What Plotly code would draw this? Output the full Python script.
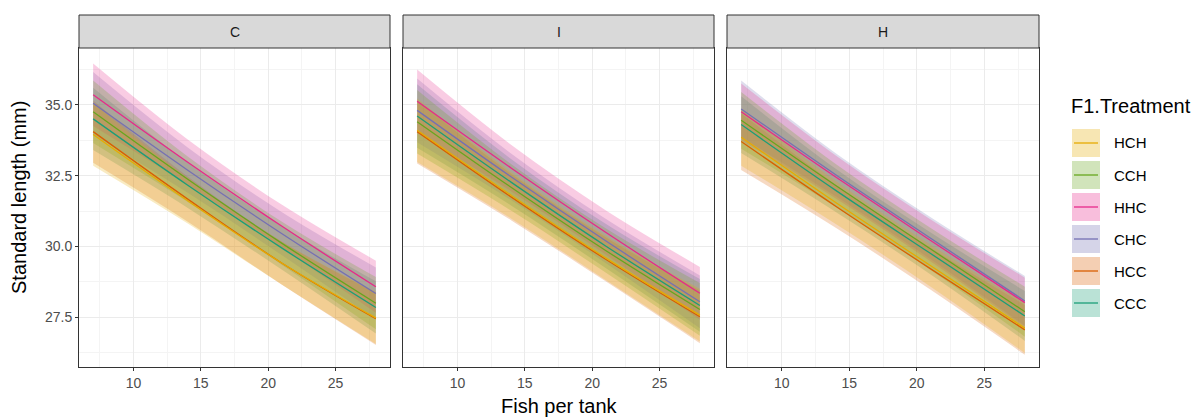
import plotly.graph_objects as go

W, H = 1195, 418

# ---------------- data ----------------
x_vals = [7, 14, 21, 28]
panels = ["C", "I", "H"]
series = ["HCH", "CCH", "HHC", "CHC", "HCC", "CCC"]
colors = ["#E6AB02", "#66A61E", "#E7298A", "#7570B3", "#D95F02", "#1B9E77"]

# fitted standard length per panel / series at x_vals
fit_C_HCH = [33.95, 31.62, 29.42, 27.48]
fit_C_CCH = [34.75, 32.38, 30.12, 28.00]
fit_C_HHC = [35.35, 32.98, 30.72, 28.58]
fit_C_CHC = [35.05, 32.70, 30.46, 28.34]
fit_C_HCC = [34.05, 31.68, 29.42, 27.45]
fit_C_CCC = [34.50, 32.17, 29.95, 27.85]

fit_I_HCH = [34.10, 31.80, 29.60, 27.58]
fit_I_CCH = [34.40, 32.08, 29.86, 27.78]
fit_I_HHC = [35.12, 32.76, 30.50, 28.35]
fit_I_CHC = [34.80, 32.45, 30.20, 28.05]
fit_I_HCC = [34.05, 31.74, 29.55, 27.52]
fit_I_CCC = [34.60, 32.26, 30.02, 27.92]

fit_H_HCH = [33.85, 31.55, 29.33, 27.12]
fit_H_CCH = [34.45, 32.15, 29.92, 27.70]
fit_H_HHC = [34.75, 32.45, 30.22, 28.02]
fit_H_CHC = [34.85, 32.53, 30.30, 28.08]
fit_H_HCC = [33.70, 31.42, 29.22, 27.06]
fit_H_CCC = [34.30, 31.98, 29.76, 27.55]

# half-width of the confidence ribbon at x_vals
half_C = [1.10, 0.80, 0.76, 0.92]
half_I = [1.12, 0.82, 0.78, 0.93]
half_H = [1.00, 0.76, 0.74, 0.88]

fits = {
    "C": [fit_C_HCH, fit_C_CCH, fit_C_HHC, fit_C_CHC, fit_C_HCC, fit_C_CCC],
    "I": [fit_I_HCH, fit_I_CCH, fit_I_HHC, fit_I_CHC, fit_I_HCC, fit_I_CCC],
    "H": [fit_H_HCH, fit_H_CCH, fit_H_HHC, fit_H_CHC, fit_H_HCC, fit_H_CCC],
}
halfs = {"C": half_C, "I": half_I, "H": half_H}

x_ticks = [10, 15, 20, 25]
y_ticks = [27.5, 30.0, 32.5, 35.0]
y_ticklabels = ["27.5", "30.0", "32.5", "35.0"]

# ---------------- helpers ----------------
def px(x):
    return x / W

def py(y):
    return 1 - y / H

def rgba(hexc, a):
    h = hexc.lstrip("#")
    r, g, b = int(h[0:2], 16), int(h[2:4], 16), int(h[4:6], 16)
    return f"rgba({r},{g},{b},{a})"

FONT = "Liberation Sans, Arial, Helvetica, sans-serif"
panel_px = [(79, 390), (403, 714), (727, 1039)]
top_px, bot_px = 48, 367
strip_top = 15

fig = go.Figure()

draw_order = list(range(len(series)))[::-1]  # CCC first, HCH on top

for pi, p in enumerate(panels):
    xa = "x" if pi == 0 else f"x{pi+1}"
    ya = "y" if pi == 0 else f"y{pi+1}"
    # ribbons
    for si in draw_order:
        f = fits[p][si]
        hw = halfs[p]
        lo = [v - h for v, h in zip(f, hw)]
        hi = [v + h for v, h in zip(f, hw)]
        fig.add_trace(go.Scatter(x=x_vals, y=lo, mode="lines", line=dict(width=0, shape="spline"),
                                 xaxis=xa, yaxis=ya, showlegend=False, hoverinfo="skip"))
        fig.add_trace(go.Scatter(x=x_vals, y=hi, mode="lines", line=dict(width=0, shape="spline"),
                                 fill="tonexty", fillcolor=rgba(colors[si], 0.24),
                                 xaxis=xa, yaxis=ya, showlegend=False, hoverinfo="skip"))
    # lines
    for si in draw_order:
        fig.add_trace(go.Scatter(x=x_vals, y=fits[p][si], mode="lines",
                                 line=dict(color=colors[si], width=1.3, shape="spline"),
                                 xaxis=xa, yaxis=ya, showlegend=False, name=series[si]))

shapes = []
annotations = []
layout_axes = {}
for pi, p in enumerate(panels):
    x0, x1 = panel_px[pi]
    xk = "xaxis" if pi == 0 else f"xaxis{pi+1}"
    yk = "yaxis" if pi == 0 else f"yaxis{pi+1}"
    layout_axes[xk] = dict(
        domain=[px(x0), px(x1)], range=[5.95, 29.05], anchor="y" if pi == 0 else f"y{pi+1}",
        tickvals=x_ticks, ticks="outside", ticklen=3, tickcolor="#333333", tickwidth=1,
        tickfont=dict(family=FONT, size=14, color="#4D4D4D"),
        showgrid=True, gridcolor="#EBEBEB", gridwidth=1,
        minor=dict(tickvals=[7.5, 12.5, 17.5, 22.5, 27.5], showgrid=True, gridcolor="#F4F4F4", gridwidth=1),
        showline=True, linecolor="#333333", linewidth=1, mirror=True, zeroline=False,
    )
    layout_axes[yk] = dict(
        domain=[py(bot_px), py(top_px)], range=[25.75, 37.0], anchor="x" if pi == 0 else f"x{pi+1}",
        tickvals=y_ticks, ticktext=y_ticklabels, showticklabels=(pi == 0),
        ticks="outside" if pi == 0 else "", ticklen=3, tickcolor="#333333", tickwidth=1,
        tickfont=dict(family=FONT, size=14, color="#4D4D4D"),
        showgrid=True, gridcolor="#EBEBEB", gridwidth=1,
        minor=dict(tickvals=[26.25, 28.75, 31.25, 33.75, 36.25], showgrid=True, gridcolor="#F4F4F4", gridwidth=1),
        showline=True, linecolor="#333333", linewidth=1, mirror=True, zeroline=False,
    )
    # strip
    shapes.append(dict(type="rect", xref="paper", yref="paper", x0=px(x0), x1=px(x1),
                       y0=py(top_px), y1=py(strip_top), fillcolor="#D9D9D9",
                       line=dict(color="#333333", width=1), layer="above"))
    annotations.append(dict(text=p, xref="paper", yref="paper", x=px((x0 + x1) / 2),
                            y=py((strip_top + top_px) / 2), showarrow=False,
                            font=dict(family=FONT, size=14, color="#1A1A1A"),
                            xanchor="center", yanchor="middle"))

# axis titles
annotations.append(dict(text="Fish per tank", xref="paper", yref="paper", x=px(559), y=py(406),
                        showarrow=False, font=dict(family=FONT, size=20, color="#000000"),
                        xanchor="center", yanchor="middle"))
annotations.append(dict(text="Standard length (mm)", xref="paper", yref="paper", x=px(19), y=py(198),
                        showarrow=False, textangle=-90, font=dict(family=FONT, size=20, color="#000000"),
                        xanchor="center", yanchor="middle"))

# legend (drawn manually)
annotations.append(dict(text="F1.Treatment", xref="paper", yref="paper", x=px(1069), y=py(106),
                        showarrow=False, font=dict(family=FONT, size=20, color="#000000"),
                        xanchor="left", yanchor="middle"))
for si, s in enumerate(series):
    cy = 143 + 32 * si
    shapes.append(dict(type="rect", xref="paper", yref="paper", x0=px(1072), x1=px(1100),
                       y0=py(cy + 14), y1=py(cy - 14), fillcolor=rgba(colors[si], 0.3),
                       line=dict(width=0)))
    shapes.append(dict(type="line", xref="paper", yref="paper", x0=px(1074), x1=px(1098),
                       y0=py(cy), y1=py(cy), line=dict(color=colors[si], width=1.3)))
    annotations.append(dict(text=s, xref="paper", yref="paper", x=px(1112), y=py(cy),
                            showarrow=False, font=dict(family=FONT, size=15, color="#000000"),
                            xanchor="left", yanchor="middle"))

fig.update_layout(
    width=W, height=H, margin=dict(l=0, r=0, t=0, b=0),
    paper_bgcolor="white", plot_bgcolor="white", showlegend=False,
    shapes=shapes, annotations=annotations, **layout_axes,
)

fig.write_html("out.html")
